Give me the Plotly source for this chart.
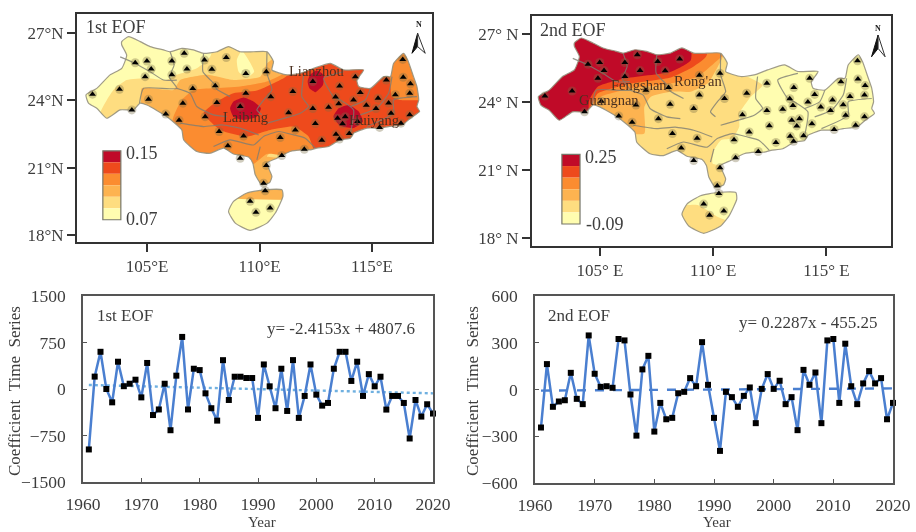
import plotly.graph_objects as go

W, H = 916, 532
FONT = "Liberation Serif"
INK = "#3d3d3d"

years = list(range(1961, 2021))
eof1_series = [-975,200,600,0,-215,440,45,85,150,-135,420,-420,-330,85,-665,215,840,-330,327,305,
               -70,-310,-510,465,-177,198,198,177,177,-466,396,43,-310,327,-354,466,-466,-112,396,-91,
               -268,-225,327,600,600,130,440,-112,240,43,198,-332,-112,-112,-225,-798,-177,-445,-246,-396]
eof2_series = [-244,163,-111,-77,-69,107,-60,-94,347,101,17,21,11,324,315,-32,-296,129,216,-270,
               -86,-191,-182,-24,-15,73,21,304,30,-182,-394,-15,-49,-111,-41,13,-216,4,99,4,
               56,-94,-49,-261,126,30,109,-216,315,324,-86,294,21,-94,39,118,39,73,-191,-86]
trend1_x, trend1_y = [1961, 2020], [65, -70]
trend2_x, trend2_y = [1961, 2020], [-7, 7]

main_lon = [103.87,104.17,104.69,105.13,105.73,106.02,106.54,107.06,107.51,108.10,108.62,109.14,109.73,110.33,
            110.62,110.55,111.22,111.81,112.40,113.15,113.74,114.63,114.33,114.41,114.93,115.52,115.82,115.96,
            116.41,116.59,116.85,117.00,117.08,117.00,117.12,116.71,116.34,115.74,115.37,114.78,114.18,114.04,
            113.59,113.07,112.55,112.26,111.88,111.36,110.77,110.33,110.55,110.45,110.10,109.81,109.70,109.51,
            108.84,108.40,107.80,107.21,106.62,106.54,105.88,104.99,104.69,104.39,103.80,103.20,102.76,102.39,
            102.28,102.76,103.35,103.87,104.09,103.87]
main_lat = [26.61,26.83,26.61,26.39,26.24,26.16,26.31,26.24,26.09,26.16,26.39,26.16,26.16,26.16,
            25.72,25.35,25.13,25.20,25.42,25.64,25.35,25.35,24.90,24.61,24.53,25.05,25.05,25.64,
            26.09,25.79,25.05,24.61,24.01,23.72,23.50,23.20,22.90,22.83,22.76,22.76,22.53,22.31,
            22.24,21.94,21.87,21.79,21.79,21.72,21.42,21.20,20.61,20.34,20.24,20.68,21.20,21.47,
            21.61,21.87,21.64,21.72,22.24,22.68,23.27,23.79,23.87,23.57,23.57,23.20,23.64,23.87,
            24.24,24.53,25.13,25.42,26.01,26.46]
hainan_lon = [108.84,109.44,110.18,111.00,111.04,110.70,110.33,109.58,108.92,108.62]
hainan_lat = [19.50,19.87,20.01,20.01,19.72,18.98,18.53,18.21,18.53,19.05]

station_lon = [102.57,103.77,104.32,104.47,104.99,105.18,104.91,106.10,106.10,106.65,106.77,107.55,107.88,108.52,
               109.39,110.30,107.03,108.03,109.39,110.50,111.48,112.37,113.56,114.26,114.48,115.64,116.37,116.39,
               116.71,116.68,116.04,115.27,114.18,113.38,113.52,114.75,115.18,115.74,113.07,112.37,111.29,108.10,
               109.14,106.59,105.06,105.83,106.42,107.58,108.20,109.29,108.59,109.14,110.30,110.18,110.25,109.58,
               110.47,109.84,110.99,110.92,111.59,112.48,112.77,111.99,113.40,113.55,113.47,113.69,113.81,114.36,
               113.99,115.34,115.85,116.68,116.29]
station_lat = [24.27,24.49,23.57,25.67,25.75,25.39,25.05,25.75,25.13,26.09,25.39,25.79,25.38,25.90,
               25.19,25.27,24.52,24.65,24.31,24.16,24.39,24.83,24.64,25.05,24.34,24.90,25.82,25.02,
               24.73,24.31,24.25,24.09,24.01,24.15,23.85,23.78,23.63,23.88,23.69,23.63,23.44,23.90,
               23.72,23.87,24.04,23.39,23.11,23.27,22.61,22.41,21.97,21.42,21.10,20.31,19.97,19.50,
               19.20,19.01,21.54,22.34,22.68,22.96,22.22,21.82,22.49,22.27,23.20,22.95,23.27,23.05,
               22.52,22.79,23.42,23.35,22.98]

border_lines = [
    ([103.80,104.47,105.13,105.73,106.32],[25.93,25.64,25.27,24.90,24.90]),
    ([106.02,106.20,105.99,106.32,104.84,104.66],[26.16,25.57,25.02,24.53,24.53,23.87]),
    ([107.51,107.48,107.95,108.10,108.69],[26.09,25.27,24.76,24.49,24.16]),
    ([106.32,106.91,107.21,107.95,108.55],[24.53,24.31,23.72,23.35,23.27]),
    ([106.47,107.51,108.32,109.14,109.96],[22.98,22.83,22.90,22.76,22.46]),
    ([110.33,110.33,110.55,110.18,109.88,110.10],[26.16,25.20,24.46,24.01,23.57,23.35]),
    ([111.96,111.88,112.18,111.81,111.36,110.33],[25.13,24.16,23.72,23.42,23.27,22.98]),
    ([107.95,108.69,109.73,110.18,110.85,111.51,112.03,112.48],[21.94,22.24,22.01,22.39,22.61,22.46,22.31,21.87]),
    ([110.03,109.88],[21.94,21.35]),
    ([113.74,112.85,113.29,113.59,114.18,114.04],[25.27,24.98,24.16,24.01,23.57,22.53]),
    ([114.93,114.70,114.04],[24.53,24.01,23.72]),
    ([115.89,115.74,115.22,114.48],[25.05,24.31,23.64,23.35]),
    ([117.00,115.96,115.96,114.78],[24.16,24.01,23.42,22.83]),
]

band_colors = ["#FFFDB0", "#FEDD80", "#FDB350", "#FB8C30", "#EE4A1C", "#C00A28"]

# EOF1 loading regions: (band index, lon, lat)
eof1_bands = [
    (1,[102.91,103.50,104.09,104.99,105.88,106.32,107.21,107.80,108.25,117.74,117.74,108.84,102.91],
       [23.42,24.46,24.90,24.98,24.90,25.13,25.42,25.94,26.90,26.90,20.76,20.76,20.76]),
    (0,[108.99,109.21,109.51,109.76,109.44,109.07],[25.79,26.20,25.79,25.27,25.02,25.27]),
    (2,[104.76,104.76,106.17,106.47,107.66,108.84,110.03,110.33,110.77,117.74,117.74,104.76],
       [23.42,24.53,24.46,24.90,25.13,24.90,25.05,25.64,25.94,25.94,20.16,20.16]),
    (1,[110.33,110.77,111.51,111.51],[21.50,21.87,21.94,21.50]),
    (3,[106.02,106.17,106.54,107.06,107.95,109.14,110.33,111.22,111.81,117.74,117.74,111.51,110.33,109.58,107.36,106.02],
       [22.53,23.27,24.01,24.46,24.53,24.61,24.83,25.27,25.79,26.68,20.76,21.47,21.61,21.05,20.76,20.76]),
    (4,[107.51,108.10,108.84,109.88,111.07,111.81,112.40,113.29,114.78,115.74,115.89,116.26,117.30,117.30,113.29,112.55,112.18,111.51,110.47,109.44,108.25],
       [23.42,23.94,24.31,24.43,24.98,25.50,25.94,26.24,26.24,25.27,24.16,24.01,23.94,22.53,21.35,21.50,22.39,22.83,22.68,22.39,22.68]),
    (5,[108.69,108.84,109.29,109.73,110.06,109.88,109.29,108.84],[23.64,23.94,24.12,23.94,23.64,23.27,23.13,23.27]),
    (5,[112.14,112.25,112.55,112.85,112.82,112.48,112.22],[24.83,25.13,25.32,25.13,24.68,24.36,24.53]),
    (5,[113.29,113.52,113.96,114.41,114.60,114.18,113.59],[23.27,23.64,23.79,23.50,23.05,22.76,22.86]),
]
# EOF2 loading regions
eof2_bands = [
    (1,[102.10,110.63,110.78,111.37,112.18,111.66,111.15,111.15,110.85,110.34,110.04,109.97,110.49,110.63,109.46,109.01,106.07,102.10],
       [27.03,27.03,25.41,25.19,24.75,24.24,23.50,22.91,22.40,22.32,21.88,21.29,21.15,20.26,20.12,21.15,20.85,22.62]),
    (1,[108.57,109.31,110.19,110.63,110.19,108.57],[19.38,19.46,18.94,18.72,17.91,17.91]),
    (2,[102.10,110.63,110.49,110.12,109.75,109.01,108.13,107.25,106.96,106.96,105.78,102.10],
       [27.03,27.03,26.15,25.41,24.82,24.46,24.46,24.24,23.79,22.62,22.62,22.62]),
    (3,[102.10,110.63,110.56,110.04,109.31,108.13,106.37,105.04,104.60,104.46,102.10],
       [27.03,27.03,26.22,25.71,25.12,24.82,24.60,24.24,23.72,22.62,22.62]),
    (4,[102.10,109.90,109.68,109.01,108.13,106.37,104.90,104.60,104.46,102.10],
       [27.03,27.03,26.00,25.49,25.09,24.82,24.38,23.79,22.62,22.62]),
    (5,[102.10,108.87,109.01,108.13,106.07,104.90,104.53,104.38,102.10],
       [27.03,27.03,25.85,25.34,25.04,24.68,24.09,22.62,22.62]),
]


def px(x): return x / W
def py(y): return 1 - y / H


fig = go.Figure()
shapes, annots = [], []
SPL = dict(shape="spline", smoothing=0.5, simplify=False)


def text(x, y, s, size=16, color=INK, xanchor="center", ref=None):
    a = dict(text=s, showarrow=False, xanchor=xanchor, yanchor="middle",
             font=dict(family=FONT, size=size, color=color))
    if ref:
        a.update(x=x, y=y, xref=ref[0], yref=ref[1])
    else:
        a.update(x=px(x), y=py(y), xref="paper", yref="paper")
    annots.append(a)


def draw_map(sfx, xr, yr, bands, cbar, arrow):
    xa, ya = "x" + sfx, "y" + sfx
    kw = dict(xaxis=xa, yaxis=ya, showlegend=False, hoverinfo="skip")
    # base
    fig.add_trace(go.Scatter(x=main_lon + [main_lon[0], None] + hainan_lon + [hainan_lon[0]],
                             y=main_lat + [main_lat[0], None] + hainan_lat + [hainan_lat[0]], mode="lines",
                             fill="toself", fillcolor=band_colors[0], line=dict(width=0, **SPL), **kw))
    for idx, lo, la in bands:
        fig.add_trace(go.Scatter(x=lo + lo[:1], y=la + la[:1], mode="lines", fill="toself", fillcolor=band_colors[idx],
                                 line=dict(width=0, **SPL), **kw))
    # white mask outside the region outline; its outer ring lies beyond the axis range and is clipped
    x0, x1, y0, y1 = xr[0] - 40, xr[1] + 40, yr[0] - 40, yr[1] + 40
    mx = [x0, x1, x1, x0, x0, None] + main_lon + [main_lon[0], None] + hainan_lon + [hainan_lon[0]]
    my = [y0, y0, y1, y1, y0, None] + main_lat + [main_lat[0], None] + hainan_lat + [hainan_lat[0]]
    fig.add_trace(go.Scatter(x=mx, y=my, mode="lines", fill="toself", fillcolor="white",
                             line=dict(width=0, **SPL), **kw))
    # borders
    for lo, la in border_lines:
        fig.add_trace(go.Scatter(x=lo, y=la, mode="lines",
                                 line=dict(color="rgba(125,125,115,0.8)", width=1.2, **SPL), **kw))
    fig.add_trace(go.Scatter(x=main_lon + [main_lon[0], None] + hainan_lon + [hainan_lon[0]],
                             y=main_lat + [main_lat[0], None] + hainan_lat + [hainan_lat[0]], mode="lines",
                             line=dict(color="rgba(150,145,125,0.9)", width=1.2, **SPL), **kw))
    # stations
    fig.add_trace(go.Scatter(x=station_lon, y=station_lat, mode="markers",
                             marker=dict(symbol="circle", size=9, color="rgba(120,110,70,0.35)"), **kw))
    fig.add_trace(go.Scatter(x=station_lon, y=station_lat, mode="markers",
                             marker=dict(symbol="triangle-up", size=6, color="black"), **kw))
    # colour key
    cx0, cx1, ytop, ybot = cbar
    n = len(band_colors)
    for i, c in enumerate(reversed(band_colors)):
        shapes.append(dict(type="rect", xref=xa, yref=ya, x0=cx0, x1=cx1,
                           y0=ytop + (ybot - ytop) * i / n, y1=ytop + (ybot - ytop) * (i + 1) / n,
                           fillcolor=c, line=dict(width=0), layer="above"))
    shapes.append(dict(type="rect", xref=xa, yref=ya, x0=cx0, x1=cx1, y0=ytop, y1=ybot,
                       line=dict(color="#77776a", width=1.2), layer="above"))
    # north arrow
    (tx, ty), (lx, ly), (cx, cy), (rx, ry), (nx, ny) = arrow
    shapes.append(dict(type="path", xref=xa, yref=ya, path=f"M{tx},{ty} L{lx},{ly} L{cx},{cy} Z",
                       fillcolor="#111", line=dict(color="#111", width=1), layer="above"))
    shapes.append(dict(type="path", xref=xa, yref=ya, path=f"M{tx},{ty} L{rx},{ry} L{cx},{cy} Z",
                       fillcolor="white", line=dict(color="#333", width=1), layer="above"))
    text(nx, ny, "<b>N</b>", size=8, color="#222", ref=(xa, ya))


draw_map("", [101.88, 117.67], [17.69, 27.84], eof1_bands,
         (103.03, 103.83, 21.75, 18.68),
         ((117.03, 26.98), (116.78, 26.09), (117.03, 26.39), (117.37, 26.09), (117.08, 27.39)))
draw_map("2", [102.0, 117.85], [17.65, 27.8], eof2_bands,
         (103.32, 104.12, 21.69, 18.62),
         ((117.28, 26.96), (116.99, 26.00), (117.28, 26.37), (117.59, 26.00), (117.28, 27.25)))

LINE = "#4A7FD0"
for sfx, series, tx, ty, dash in [("3", eof1_series, trend1_x, trend1_y, "dot"),
                                  ("4", eof2_series, trend2_x, trend2_y, "dash")]:
    kw = dict(xaxis="x" + sfx, yaxis="y" + sfx, showlegend=False, hoverinfo="skip")
    fig.add_trace(go.Scatter(x=tx, y=ty, mode="lines",
                             line=dict(color="#6FB0E0" if dash == "dot" else "#4A7FD0", width=2.4, dash=dash), **kw))
    fig.add_trace(go.Scatter(x=years, y=series, mode="lines+markers", cliponaxis=False,
                             line=dict(color=LINE, width=2.5),
                             marker=dict(symbol="square", size=6, color="black"), **kw))

# map labels
text(116, 27, "1st EOF", 18)
text(573, 30, "2nd EOF", 18)
text(142, 153, "0.15", 18)
text(142, 219, "0.07", 18)
text(601, 157, "0.25", 18)
text(605, 224, "-0.09", 18)
BR = "#4a3020"
for x, y, s, r in [(112.52, 25.30, "Lianzhou", ("x", "y")), (109.36, 23.24, "Laibing", ("x", "y")),
                   (115.07, 23.13, "Huiyang", ("x", "y")), (106.74, 24.76, "Fengshan", ("x2", "y2")),
                   (109.34, 24.93, "Rong'an", ("x2", "y2")), (105.41, 24.09, "Guangnan", ("x2", "y2"))]:
    text(x, y, s, 14.5, BR, ref=r)
# line chart labels
text(125, 315, "1st EOF", 17)
text(341, 328, "y= -2.4153x + 4807.6", 17)
text(579, 315, "2nd EOF", 17)
text(808, 322, "y= 0.2287x - 455.25", 17)
# axis titles placed by hand so they match the reference positions
text(262, 522, "Year", 15)
text(717, 522, "Year", 15)
for tx_px in (14, 472):
    a = dict(text="Coefficient&#160;&#160;Time&#160;&#160;Series", showarrow=False, textangle=-90,
             x=px(tx_px), y=py(391), xref="paper", yref="paper", xanchor="center", yanchor="middle",
             font=dict(family=FONT, size=17, color=INK))
    annots.append(a)


def dom_x(a, b): return [px(a), px(b)]
def dom_y(top, bot): return [py(bot), py(top)]


frame = dict(showline=True, mirror=True, showgrid=False, zeroline=False, color=INK, automargin=False,
             tickfont=dict(family=FONT, size=17, color=INK))
map_ax = dict(frame, linecolor="#333333", linewidth=2, ticks="outside", ticklen=8, tickwidth=2, tickcolor="#333333")
ts_ax = dict(frame, linecolor="#555555", linewidth=1.5, ticks="inside", ticklen=4, tickwidth=1, tickcolor="#555555",
             tickfont=dict(family=FONT, size=17.5, color=INK))

fig.update_layout(
    width=W, height=H, autosize=False, margin=dict(l=0, r=0, t=0, b=0),
    paper_bgcolor="white", plot_bgcolor="white",
    shapes=shapes, annotations=annots,
    xaxis=dict(map_ax, domain=dom_x(77, 432), range=[101.88, 117.67], tickvals=[105, 110, 115],
               ticktext=["105°E", "110°E", "115°E"], anchor="y"),
    yaxis=dict(map_ax, domain=dom_y(14, 242), range=[17.69, 27.84], tickvals=[18, 21, 24, 27],
               ticktext=["18°N", "21°N", "24°N", "27°N"], anchor="x"),
    xaxis2=dict(map_ax, domain=dom_x(532, 891), range=[102.0, 117.85], tickvals=[105, 110, 115],
                ticktext=["105° E", "110° E", "115° E"], anchor="y2"),
    yaxis2=dict(map_ax, domain=dom_y(16, 246), range=[17.65, 27.8], tickvals=[18, 21, 24, 27],
                ticktext=["18° N", "21° N", "24° N", "27° N"], anchor="x2"),
    xaxis3=dict(ts_ax, domain=dom_x(83, 433), range=[1960, 2020], tickvals=list(range(1960, 2021, 10)), anchor="y3",
                ticklabelstandoff=5),
    yaxis3=dict(ts_ax, domain=dom_y(296, 482), range=[-1500, 1500], tickvals=[-1500, -750, 0, 750, 1500], anchor="x3",
                ticklabelstandoff=12),
    xaxis4=dict(ts_ax, domain=dom_x(535, 893), range=[1960, 2020], tickvals=list(range(1960, 2021, 10)), anchor="y4",
                ticklabelstandoff=5),
    yaxis4=dict(ts_ax, domain=dom_y(296, 483), range=[-600, 600], tickvals=[-600, -300, 0, 300, 600], anchor="x4",
                ticklabelstandoff=12),
)
fig.write_html("out.html", config={"displayModeBar": False},
               post_script="document.body.style.margin='0';document.documentElement.style.overflow='hidden';"
                           "document.querySelector('.plotly-graph-div').style.filter='blur(0.5px)';")
